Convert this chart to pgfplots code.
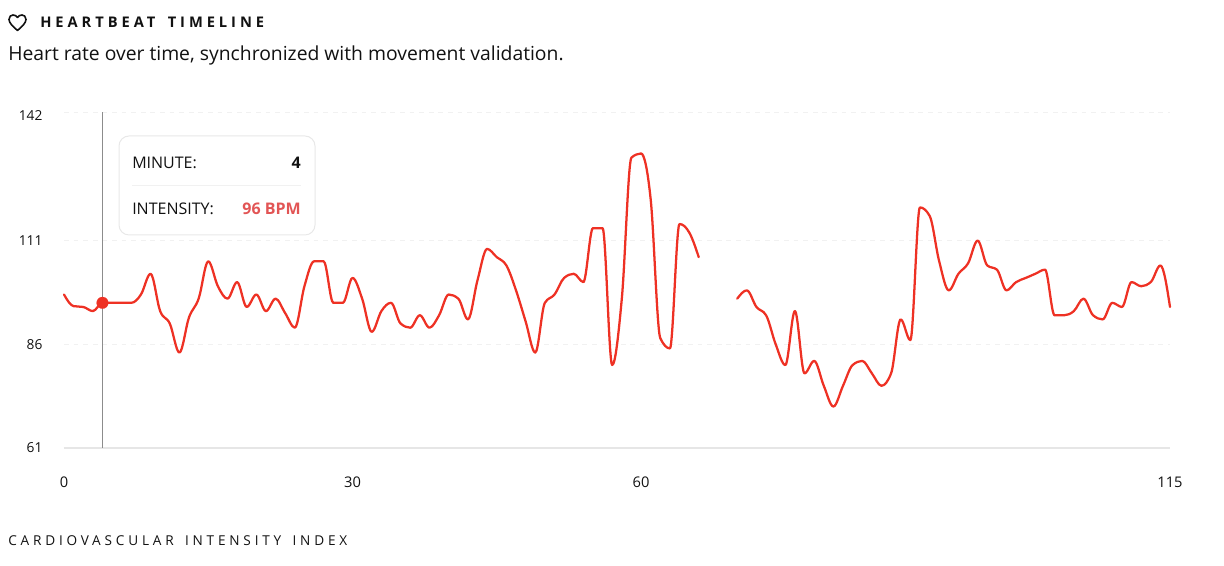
\documentclass[border=0pt]{standalone}
\usepackage{fontspec}
\setmainfont{Open Sans}
\usepackage{pgfplots}
\pgfplotsset{compat=1.18}
\definecolor{hr}{HTML}{EE3124}
\definecolor{txt}{HTML}{111111}
\definecolor{gridc}{HTML}{F1F1F1}
\definecolor{axisc}{HTML}{E6E6E6}
\definecolor{cursor}{HTML}{8C8C8C}
\definecolor{boxc}{HTML}{E8E8E8}
\definecolor{bpm}{HTML}{E25555}
\makeatletter
% monotone cubic (monotoneX) path construction between the data points
\newcount\mono@state
\def\mono@slope#1#2#3#4#5{%
  \pgfmathsetmacro\mono@p{(#3*#2+#4*#1)/(#1+#2)}%
  \pgfmathsetmacro#5{(sign(#3)+sign(#4))*min(abs(#3),abs(#4),0.5*abs(\mono@p))}%
}
\def\mono@seg#1#2#3#4#5#6{% x0 y0 m0 x1 y1 m1
  \pgfmathsetmacro\mono@h{(#4-#1)/3}%
  \pgfmathsetmacro\mono@ax{#1+\mono@h}%
  \pgfmathsetmacro\mono@ay{#2+\mono@h*#3}%
  \pgfmathsetmacro\mono@bx{#4-\mono@h}%
  \pgfmathsetmacro\mono@by{#5-\mono@h*#6}%
  \pgfpathcurveto{\pgfqpoint{\mono@ax pt}{\mono@ay pt}}{\pgfqpoint{\mono@bx pt}{\mono@by pt}}{\pgfqpoint{#4pt}{#5pt}}%
}
\def\mono@point#1{%
  \pgf@process{#1}%
  \edef\mono@nx{\strip@pt\pgf@x}\edef\mono@ny{\strip@pt\pgf@y}%
  \ifnum\mono@state=0
    \pgfpathmoveto{\pgfqpoint{\mono@nx pt}{\mono@ny pt}}%
    \global\let\mono@xa\mono@nx \global\let\mono@ya\mono@ny
    \global\mono@state=1
  \else
    \ifnum\mono@state=1
      \global\let\mono@xb\mono@nx \global\let\mono@yb\mono@ny
      \pgfmathsetmacro\mono@tmp{(\mono@yb-\mono@ya)/(\mono@xb-\mono@xa)}%
      \global\let\mono@sa\mono@tmp
      \global\mono@state=2
    \else
      \pgfmathsetmacro\mono@ha{\mono@xb-\mono@xa}%
      \pgfmathsetmacro\mono@hb{\mono@nx-\mono@xb}%
      \pgfmathsetmacro\mono@sb{(\mono@ny-\mono@yb)/\mono@hb}%
      \mono@slope\mono@ha\mono@hb\mono@sa\mono@sb\mono@m
      \ifnum\mono@state=2
        \pgfmathsetmacro\mono@tmp{(3*\mono@sa-\mono@m)/2}%
        \global\let\mono@ma\mono@tmp
        \global\mono@state=3
      \fi
      \mono@seg\mono@xa\mono@ya\mono@ma\mono@xb\mono@yb\mono@m
      \global\let\mono@xa\mono@xb \global\let\mono@ya\mono@yb
      \global\let\mono@xb\mono@nx \global\let\mono@yb\mono@ny
      \global\let\mono@ma\mono@m \global\let\mono@sa\mono@sb
    \fi
  \fi
}
\def\mono@start{\global\mono@state=0\relax}
\def\mono@end{%
  \ifnum\mono@state>2
    \pgfmathsetmacro\mono@m{(3*\mono@sa-\mono@ma)/2}%
    \mono@seg\mono@xa\mono@ya\mono@ma\mono@xb\mono@yb\mono@m
  \fi
}
\pgfdeclareplothandler{\monohandler}{}{%
  start=\mono@start,
  point macro=\mono@point,
  end=\mono@end,
}
\tikzset{monotone x/.code={\def\tikz@plot@handler{\monohandler}}}
\makeatother
\newcommand{\lsp}[1]{\addfontfeatures{LetterSpace=#1}}
\begin{document}
\begin{tikzpicture}
\path[use as bounding box] (0,0) rectangle (918pt,424.5pt);
\begin{axis}[
  at={(48pt,88.5pt)}, anchor=origin,
  scale only axis, width=829.5pt, height=252pt,
  xmin=0, xmax=115, ymin=61, ymax=142,
  axis lines=left,
  axis line style={-},
  x axis line style={draw=axisc, line width=1.5pt},
  y axis line style={draw=none},
  xtick={0,30,60,115},
  ytick={61,86,111},
  extra y ticks={142},
  extra y tick style={yticklabel style={yshift=-2.4pt}},
  major tick length=0pt,
  tick style={draw=none},
  ymajorgrids=true,
  grid style={draw=gridc, line width=0.75pt, dash pattern=on 3.6pt off 3.6pt},
  /pgf/number format/assume math mode=true,
  xticklabel style={font=\fontsize{11}{13}\selectfont, text=txt, yshift=-21.5pt, inner sep=0pt},
  yticklabel style={font=\fontsize{10.3}{12}\selectfont, text=txt, xshift=-16pt, inner sep=0pt},
  clip=false,
]
\addplot[cursor, line width=1.3pt, forget plot] coordinates {(4,61) (4,142)};
\addplot[hr, line width=1.7pt, monotone x, line join=round, line cap=round] coordinates {
(0,98)(1,95.2)(2,95)(3,94)(4,96)(5,96)(6,96)(7,96)(8,98)(9,103)
(10,94)(11,91)(12,84)(13,92.5)(14,97)(15,106)(16,100)(17,97)(18,101)(19,95)
(20,98)(21,94)(22,97)(23,93.5)(24,90)(25,100)(26,106)(27,106)(28,96)(29,96)
(30,102)(31,97)(32,89)(33,94)(34,96)(35,91)(36,90)(37,93)(38,90)(39,93)
(40,98)(41,97)(42,92)(43,101.5)(44,109)(45,107)(46,105)(47,99)(48,91.5)(49,84)
(50,96)(51,98)(52,102)(53,103)(54,101)(55,114)(56,114)(57,81)(58,97)(59,131)
(60,132)(61,121)(62,87.5)(63,85)(64,115)(65,113)(66,107)
};
\addplot[hr, line width=1.7pt, monotone x, line join=round, line cap=round] coordinates {
(70,97)(71,99)(72,95)(73,93)(74,86)(75,81)(76,94)(77,79)(78,82)(79,76)
(80,71)(81,76)(82,81)(83,82)(84,79)(85,76)(86,79)(87,92)(88,87)(89,119)
(90,117)(91,106)(92,99)(93,103)(94,105.5)(95,111)(96,105)(97,104)(98,99)(99,101)
(100,102)(101,103)(102,104)(103,93)(104,93)(105,94)(106,97)(107,93)(108,92)(109,96)
(110,95)(111,101)(112,100)(113,101)(114,105)(115,95)
};
\addplot[only marks, mark=*, mark size=4.4pt, mark options={fill=hr, draw=hr, line width=0.1pt}, forget plot] coordinates {(4,96)};
\end{axis}
\begin{scope}[x=0.75pt,y=0.75pt]
% heart icon
\draw[txt, line width=1.2pt, line join=round]
  (17.5,535.5) .. controls (13,539.5) and (9,543) .. (9,546.5)
  .. controls (9,549.5) and (11,551) .. (13,551)
  .. controls (15,551) and (16.5,550) .. (17.5,548.5)
  .. controls (18.5,550) and (20,551) .. (22,551)
  .. controls (24,551) and (26,549.5) .. (26,546.5)
  .. controls (26,543) and (22,539.5) .. (17.5,535.5) -- cycle;
\node[anchor=base west, inner sep=0pt, text=txt] at (40,538)
  {\fontsize{11}{12}\selectfont\bfseries\lsp{27}HEARTBEAT\hspace{3.5pt} TIMELINE};
\node[anchor=base west, inner sep=0pt, text=txt] at (8,505.5)
  {\fontsize{14.5}{16}\selectfont Heart rate over time, synchronized with movement validation.};
\node[anchor=base west, inner sep=0pt, text=txt] at (8,20.5)
  {\fontsize{10.2}{12}\selectfont\lsp{28}CARDIOVASCULAR\hspace{3pt} INTENSITY\hspace{3pt} INDEX};
% tooltip
\draw[boxc, fill=white, line width=0.75pt, rounded corners=7.5pt] (119,331) rectangle (315,430);
\draw[gridc, line width=0.75pt] (132,380) -- (301,380);
\node[anchor=base west, inner sep=0pt, text=txt] at (132,397.5)
  {\fontsize{12}{13}\selectfont MINUTE:};
\node[anchor=base east, inner sep=0pt, text=txt] at (301,397.5)
  {\fontsize{12}{13}\selectfont\bfseries 4};
\node[anchor=base west, inner sep=0pt, text=txt] at (132,351.5)
  {\fontsize{12}{13}\selectfont INTENSITY:};
\node[anchor=base east, inner sep=0pt, text=bpm] at (301,351.5)
  {\fontsize{12}{13}\selectfont\bfseries 96 BPM};
\end{scope}
\end{tikzpicture}
\end{document}
